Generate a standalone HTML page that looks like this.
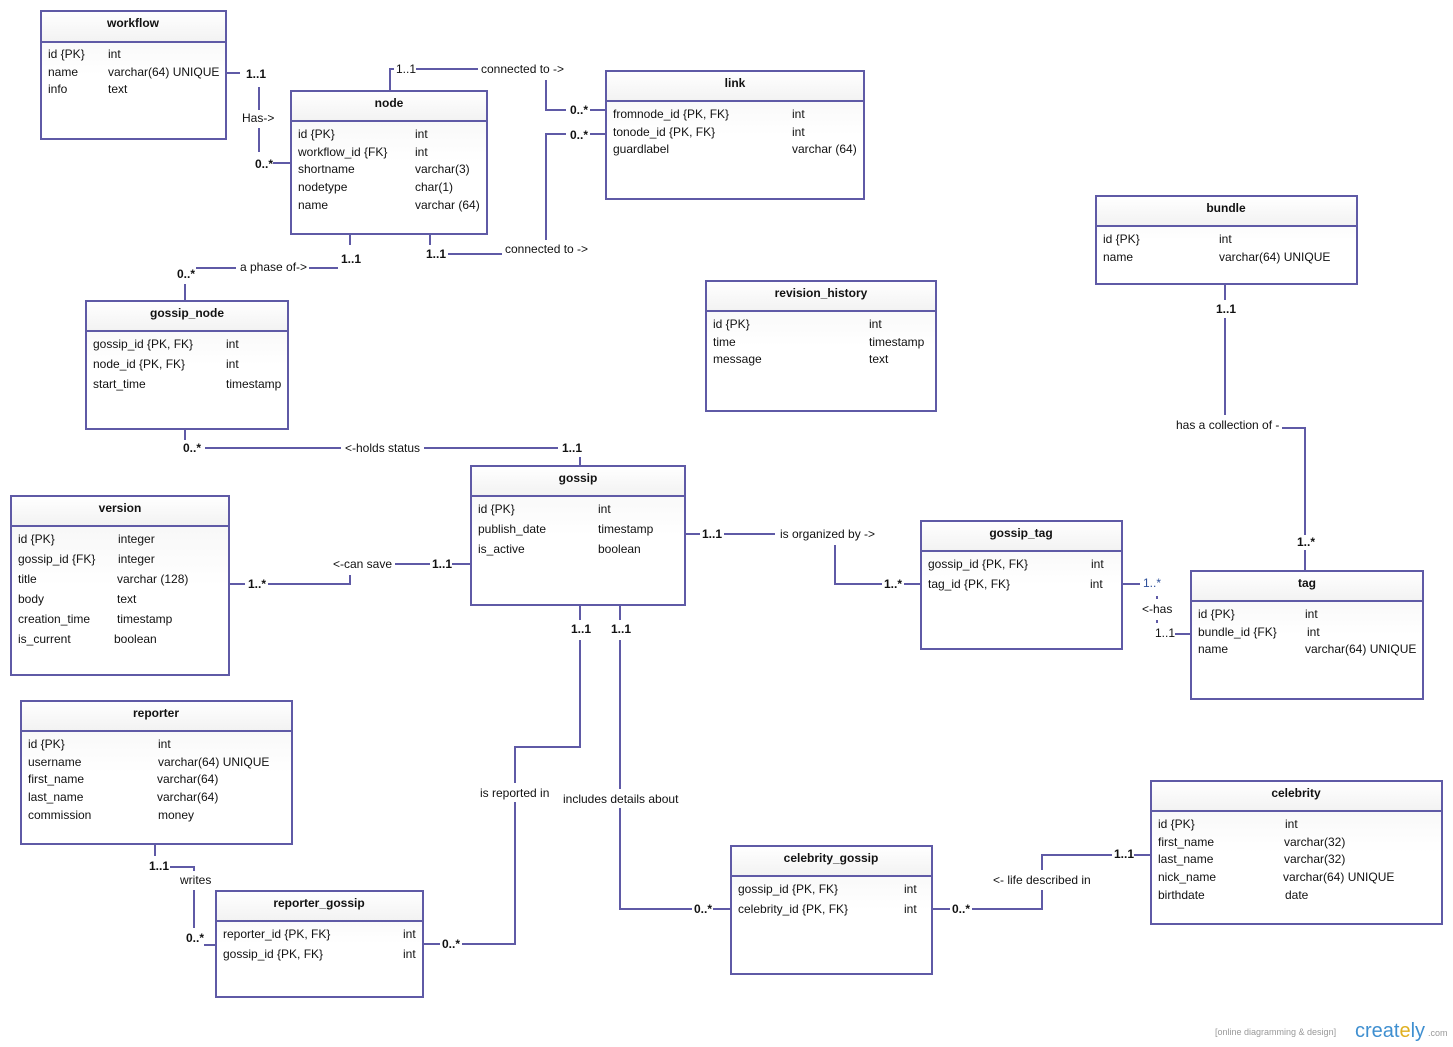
<!DOCTYPE html>
<html><head><meta charset="utf-8"><style>
html,body{margin:0;padding:0;background:#fff;}
svg{display:block;font-family:"Liberation Sans",Arial,sans-serif;font-size:12px;}
.b{font-weight:bold;}
</style></head><body>
<svg width="1453" height="1047" viewBox="0 0 1453 1047" xmlns="http://www.w3.org/2000/svg">
<defs>
<linearGradient id="hg" x1="0" y1="0" x2="0" y2="1"><stop offset="0" stop-color="#ffffff"/><stop offset="1" stop-color="#f2f2f2"/></linearGradient>
<linearGradient id="bg" x1="0" y1="0" x2="0" y2="1"><stop offset="0" stop-color="#f4f4f4"/><stop offset="0.5" stop-color="#ffffff"/><stop offset="1" stop-color="#ffffff"/></linearGradient>
</defs>
<g fill="none" stroke="#5f5aa6" stroke-width="2">
<!-- workflow-node -->
<polyline points="226,73 240,73"/>
<polyline points="259,87 259,110"/>
<polyline points="259,128 259,152"/>
<polyline points="273,163 291,163"/>
<!-- node top connected to link -->
<polyline points="390,91 390,69 394,69"/>
<polyline points="416,69 478,69"/>
<polyline points="546,80 546,110 566,110"/>
<polyline points="590,110 606,110"/>
<!-- node bottom connected to -->
<polyline points="430,234 430,245"/>
<polyline points="448,254 502,254"/>
<polyline points="546,240 546,134 566,134"/>
<polyline points="590,134 606,134"/>
<!-- a phase of -->
<polyline points="350,234 350,245"/>
<polyline points="309,268 338,268"/>
<polyline points="196,268 236,268"/>
<polyline points="185,284 185,301"/>
<!-- holds status -->
<polyline points="185,429 185,440"/>
<polyline points="205,448 341,448"/>
<polyline points="424,448 558,448"/>
<polyline points="580,457 580,466"/>
<!-- can save -->
<polyline points="229,584 245,584"/>
<polyline points="268,584 350,584 350,575"/>
<polyline points="395,564 430,564"/>
<polyline points="452,564 471,564"/>
<!-- organized by -->
<polyline points="685,534 700,534"/>
<polyline points="724,534 775,534"/>
<polyline points="835,545 835,584 882,584"/>
<polyline points="904,584 921,584"/>
<!-- has -->
<polyline points="1122,584 1140,584"/>
<polyline points="1157,596 1157,599"/>
<polyline points="1157,620 1157,623"/>
<polyline points="1175,634 1191,634"/>
<!-- bundle-tag -->
<polyline points="1225,284 1225,300"/>
<polyline points="1225,318 1225,415"/>
<polyline points="1282,428 1305,428 1305,535"/>
<polyline points="1305,550 1305,571"/>
<!-- reported in -->
<polyline points="580,605 580,620"/>
<polyline points="580,640 580,747 515,747 515,783"/>
<polyline points="515,802 515,944 462,944"/>
<polyline points="423,944 440,944"/>
<!-- includes details -->
<polyline points="620,605 620,620"/>
<polyline points="620,640 620,789"/>
<polyline points="620,808 620,909 692,909"/>
<polyline points="713,909 731,909"/>
<!-- life described -->
<polyline points="932,909 950,909"/>
<polyline points="972,909 1042,909 1042,890"/>
<polyline points="1042,870 1042,855 1112,855"/>
<polyline points="1134,855 1151,855"/>
<!-- writes -->
<polyline points="155,844 155,856"/>
<polyline points="170,867 194,867 194,871"/>
<polyline points="194,890 194,928"/>
<polyline points="204,945 216,945"/>
</g>

<g font-size="12" fill="#111">
<text x="246" y="78" class="b">1..1</text>
<text x="242" y="122">Has-&gt;</text>
<text x="255" y="168" class="b">0..*</text>
<text x="396" y="73">1..1</text>
<text x="481" y="73">connected to -&gt;</text>
<text x="570" y="114" class="b">0..*</text>
<text x="570" y="139" class="b">0..*</text>
<text x="426" y="258" class="b">1..1</text>
<text x="505" y="253">connected to -&gt;</text>
<text x="341" y="263" class="b">1..1</text>
<text x="240" y="271">a phase of-&gt;</text>
<text x="177" y="278" class="b">0..*</text>
<text x="183" y="452" class="b">0..*</text>
<text x="345" y="452">&lt;-holds status</text>
<text x="562" y="452" class="b">1..1</text>
<text x="248" y="588" class="b">1..*</text>
<text x="333" y="568">&lt;-can save</text>
<text x="432" y="568" class="b">1..1</text>
<text x="702" y="538" class="b">1..1</text>
<text x="780" y="538">is organized by -&gt;</text>
<text x="884" y="588" class="b">1..*</text>
<text x="1143" y="587" fill="#2d4f9a">1..*</text>
<text x="1142" y="613">&lt;-has</text>
<text x="1155" y="637">1..1</text>
<text x="1216" y="313" class="b">1..1</text>
<text x="1176" y="429">has a collection of -</text>
<text x="1297" y="546" class="b">1..*</text>
<text x="571" y="633" class="b">1..1</text>
<text x="611" y="633" class="b">1..1</text>
<text x="480" y="797">is reported in</text>
<text x="563" y="803">includes details about</text>
<text x="442" y="948" class="b">0..*</text>
<text x="694" y="913" class="b">0..*</text>
<text x="952" y="913" class="b">0..*</text>
<text x="993" y="884">&lt;- life described in</text>
<text x="1114" y="858" class="b">1..1</text>
<text x="149" y="870" class="b">1..1</text>
<text x="180" y="884">writes</text>
<text x="186" y="942" class="b">0..*</text>
</g>

<g id="tables" font-size="12" fill="#111">
<!-- helper style: rect + header -->
<!-- workflow -->
<rect x="41" y="11" width="185" height="128" fill="url(#bg)" stroke="#5f5aa6" stroke-width="2"/>
<rect x="42" y="12" width="183" height="30" fill="url(#hg)"/><line x1="41" y1="42" x2="226" y2="42" stroke="#5f5aa6" stroke-width="2"/>
<text x="133" y="27" text-anchor="middle" class="b">workflow</text>
<text x="48" y="58">id {PK}</text><text x="108" y="58">int</text>
<text x="48" y="76">name</text><text x="108" y="76">varchar(64) UNIQUE</text>
<text x="48" y="93">info</text><text x="108" y="93">text</text>

<!-- node -->
<rect x="291" y="91" width="196" height="143" fill="url(#bg)" stroke="#5f5aa6" stroke-width="2"/>
<rect x="292" y="92" width="194" height="29" fill="url(#hg)"/><line x1="291" y1="121" x2="487" y2="121" stroke="#5f5aa6" stroke-width="2"/>
<text x="389" y="107" text-anchor="middle" class="b">node</text>
<text x="298" y="138">id {PK}</text><text x="415" y="138">int</text>
<text x="298" y="156">workflow_id {FK}</text><text x="415" y="156">int</text>
<text x="298" y="173">shortname</text><text x="415" y="173">varchar(3)</text>
<text x="298" y="191">nodetype</text><text x="415" y="191">char(1)</text>
<text x="298" y="209">name</text><text x="415" y="209">varchar (64)</text>

<!-- link -->
<rect x="606" y="71" width="258" height="128" fill="url(#bg)" stroke="#5f5aa6" stroke-width="2"/>
<rect x="607" y="72" width="256" height="29" fill="url(#hg)"/><line x1="606" y1="101" x2="864" y2="101" stroke="#5f5aa6" stroke-width="2"/>
<text x="735" y="87" text-anchor="middle" class="b">link</text>
<text x="613" y="118">fromnode_id {PK, FK}</text><text x="792" y="118">int</text>
<text x="613" y="136">tonode_id {PK, FK}</text><text x="792" y="136">int</text>
<text x="613" y="153">guardlabel</text><text x="792" y="153">varchar (64)</text>

<!-- bundle -->
<rect x="1096" y="196" width="261" height="88" fill="url(#bg)" stroke="#5f5aa6" stroke-width="2"/>
<rect x="1097" y="197" width="259" height="29" fill="url(#hg)"/><line x1="1096" y1="226" x2="1357" y2="226" stroke="#5f5aa6" stroke-width="2"/>
<text x="1226" y="212" text-anchor="middle" class="b">bundle</text>
<text x="1103" y="243">id {PK}</text><text x="1219" y="243">int</text>
<text x="1103" y="261">name</text><text x="1219" y="261">varchar(64) UNIQUE</text>

<!-- revision_history -->
<rect x="706" y="281" width="230" height="130" fill="url(#bg)" stroke="#5f5aa6" stroke-width="2"/>
<rect x="707" y="282" width="228" height="29" fill="url(#hg)"/><line x1="706" y1="311" x2="936" y2="311" stroke="#5f5aa6" stroke-width="2"/>
<text x="821" y="297" text-anchor="middle" class="b">revision_history</text>
<text x="713" y="328">id {PK}</text><text x="869" y="328">int</text>
<text x="713" y="346">time</text><text x="869" y="346">timestamp</text>
<text x="713" y="363">message</text><text x="869" y="363">text</text>

<!-- gossip_node -->
<rect x="86" y="301" width="202" height="128" fill="url(#bg)" stroke="#5f5aa6" stroke-width="2"/>
<rect x="87" y="302" width="200" height="29" fill="url(#hg)"/><line x1="86" y1="331" x2="288" y2="331" stroke="#5f5aa6" stroke-width="2"/>
<text x="187" y="317" text-anchor="middle" class="b">gossip_node</text>
<text x="93" y="348">gossip_id {PK, FK}</text><text x="226" y="348">int</text>
<text x="93" y="368">node_id {PK, FK}</text><text x="226" y="368">int</text>
<text x="93" y="388">start_time</text><text x="226" y="388">timestamp</text>

<!-- gossip -->
<rect x="471" y="466" width="214" height="139" fill="url(#bg)" stroke="#5f5aa6" stroke-width="2"/>
<rect x="472" y="467" width="212" height="29" fill="url(#hg)"/><line x1="471" y1="496" x2="685" y2="496" stroke="#5f5aa6" stroke-width="2"/>
<text x="578" y="482" text-anchor="middle" class="b">gossip</text>
<text x="478" y="513">id {PK}</text><text x="598" y="513">int</text>
<text x="478" y="533">publish_date</text><text x="598" y="533">timestamp</text>
<text x="478" y="553">is_active</text><text x="598" y="553">boolean</text>

<!-- version -->
<rect x="11" y="496" width="218" height="179" fill="url(#bg)" stroke="#5f5aa6" stroke-width="2"/>
<rect x="12" y="497" width="216" height="29" fill="url(#hg)"/><line x1="11" y1="526" x2="229" y2="526" stroke="#5f5aa6" stroke-width="2"/>
<text x="120" y="512" text-anchor="middle" class="b">version</text>
<text x="18" y="543">id {PK}</text><text x="118" y="543">integer</text>
<text x="18" y="563">gossip_id {FK}</text><text x="118" y="563">integer</text>
<text x="18" y="583">title</text><text x="117" y="583">varchar (128)</text>
<text x="18" y="603">body</text><text x="117" y="603">text</text>
<text x="18" y="623">creation_time</text><text x="117" y="623">timestamp</text>
<text x="18" y="643">is_current</text><text x="114" y="643">boolean</text>

<!-- gossip_tag -->
<rect x="921" y="521" width="201" height="128" fill="url(#bg)" stroke="#5f5aa6" stroke-width="2"/>
<rect x="922" y="522" width="199" height="29" fill="url(#hg)"/><line x1="921" y1="551" x2="1122" y2="551" stroke="#5f5aa6" stroke-width="2"/>
<text x="1021" y="537" text-anchor="middle" class="b">gossip_tag</text>
<text x="928" y="568">gossip_id {PK, FK}</text><text x="1091" y="568">int</text>
<text x="928" y="588">tag_id {PK, FK}</text><text x="1090" y="588">int</text>

<!-- tag -->
<rect x="1191" y="571" width="232" height="128" fill="url(#bg)" stroke="#5f5aa6" stroke-width="2"/>
<rect x="1192" y="572" width="230" height="29" fill="url(#hg)"/><line x1="1191" y1="601" x2="1423" y2="601" stroke="#5f5aa6" stroke-width="2"/>
<text x="1307" y="587" text-anchor="middle" class="b">tag</text>
<text x="1198" y="618">id {PK}</text><text x="1305" y="618">int</text>
<text x="1198" y="636">bundle_id {FK}</text><text x="1307" y="636">int</text>
<text x="1198" y="653">name</text><text x="1305" y="653">varchar(64) UNIQUE</text>

<!-- reporter -->
<rect x="21" y="701" width="271" height="143" fill="url(#bg)" stroke="#5f5aa6" stroke-width="2"/>
<rect x="22" y="702" width="269" height="29" fill="url(#hg)"/><line x1="21" y1="731" x2="292" y2="731" stroke="#5f5aa6" stroke-width="2"/>
<text x="156" y="717" text-anchor="middle" class="b">reporter</text>
<text x="28" y="748">id {PK}</text><text x="158" y="748">int</text>
<text x="28" y="766">username</text><text x="158" y="766">varchar(64) UNIQUE</text>
<text x="28" y="783">first_name</text><text x="157" y="783">varchar(64)</text>
<text x="28" y="801">last_name</text><text x="157" y="801">varchar(64)</text>
<text x="28" y="819">commission</text><text x="158" y="819">money</text>

<!-- celebrity -->
<rect x="1151" y="781" width="291" height="143" fill="url(#bg)" stroke="#5f5aa6" stroke-width="2"/>
<rect x="1152" y="782" width="289" height="29" fill="url(#hg)"/><line x1="1151" y1="811" x2="1442" y2="811" stroke="#5f5aa6" stroke-width="2"/>
<text x="1296" y="797" text-anchor="middle" class="b">celebrity</text>
<text x="1158" y="828">id {PK}</text><text x="1285" y="828">int</text>
<text x="1158" y="846">first_name</text><text x="1284" y="846">varchar(32)</text>
<text x="1158" y="863">last_name</text><text x="1284" y="863">varchar(32)</text>
<text x="1158" y="881">nick_name</text><text x="1283" y="881">varchar(64) UNIQUE</text>
<text x="1158" y="899">birthdate</text><text x="1285" y="899">date</text>

<!-- celebrity_gossip -->
<rect x="731" y="846" width="201" height="128" fill="url(#bg)" stroke="#5f5aa6" stroke-width="2"/>
<rect x="732" y="847" width="199" height="29" fill="url(#hg)"/><line x1="731" y1="876" x2="932" y2="876" stroke="#5f5aa6" stroke-width="2"/>
<text x="831" y="862" text-anchor="middle" class="b">celebrity_gossip</text>
<text x="738" y="893">gossip_id {PK, FK}</text><text x="904" y="893">int</text>
<text x="738" y="913">celebrity_id {PK, FK}</text><text x="904" y="913">int</text>

<!-- reporter_gossip -->
<rect x="216" y="891" width="207" height="106" fill="url(#bg)" stroke="#5f5aa6" stroke-width="2"/>
<rect x="217" y="892" width="205" height="29" fill="url(#hg)"/><line x1="216" y1="921" x2="423" y2="921" stroke="#5f5aa6" stroke-width="2"/>
<text x="319" y="907" text-anchor="middle" class="b">reporter_gossip</text>
<text x="223" y="938">reporter_id {PK, FK}</text><text x="403" y="938">int</text>
<text x="223" y="958">gossip_id {PK, FK}</text><text x="403" y="958">int</text>
</g>

<text x="1215" y="1035" font-size="9" fill="#999">[online diagramming &amp; design]</text>
<text x="1355" y="1037" font-size="20" fill="#3f8fd0">creat<tspan fill="#e0b020">e</tspan>ly</text>
<text x="1428" y="1036" font-size="9" fill="#999">.com</text>
</svg>
</body></html>
